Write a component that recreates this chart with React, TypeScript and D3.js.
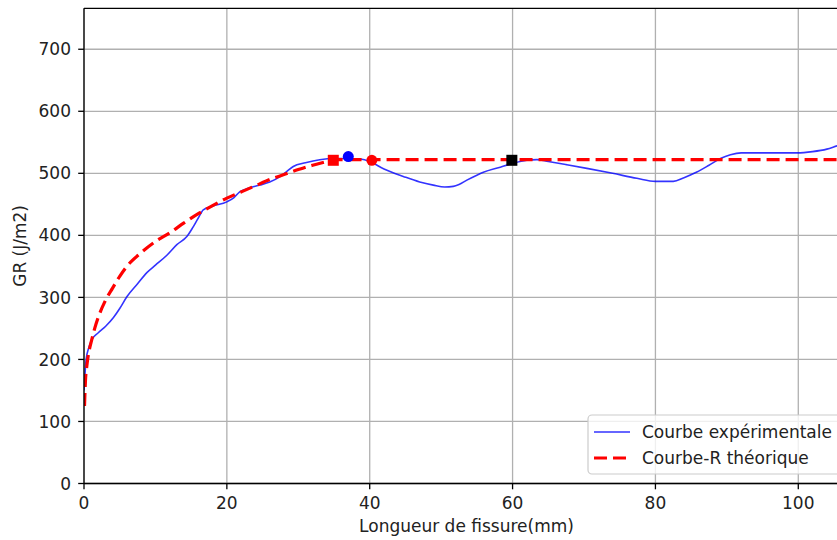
import React from "react";
import * as d3 from "d3";

// Experimental curve (crack length mm, GR J/m2)
const expX = [0, 0.3, 0.7, 1.1, 2, 3, 4.1, 5, 6, 7.5, 8.8, 10, 11.6, 13, 14.4, 15.2, 16, 16.7, 18, 20, 21, 21.8, 23, 24.6, 26, 27.5, 28.4, 29.3, 31, 33, 35, 37, 38.7, 40, 42, 44.7, 47, 48.9, 50.5, 51.7, 52.5, 53.6, 55, 56, 58, 60, 62, 63.4, 65, 67.5, 70.4, 74, 77.4, 80, 82.5, 84, 85.8, 87.5, 89.1, 90.5, 92, 95, 99.8, 102, 104, 105.6, 107];
const expY = [150, 200, 220, 232, 243, 253, 267, 282, 301, 322, 340, 352, 368, 385, 398, 412, 428, 441, 447, 454, 461, 470, 476, 481, 486, 495, 503, 511, 517, 522, 524, 524, 523, 519, 507, 495, 486, 481, 478, 479, 482, 489, 497, 502, 509, 516, 521, 522, 519, 514, 508, 500, 492, 487, 487, 493, 502, 513, 524, 530, 533, 533, 533, 535, 539, 545, 549];

// Theoretical R-curve
const theoX = [0.07, 0.2, 0.4, 0.7, 1, 1.5, 2, 3, 4, 5, 6, 8, 10, 12, 14, 16, 18, 20, 22, 24, 26, 28, 30, 32, 34, 35, 60, 107];
const theoY = [125, 165, 190, 213, 228, 250, 268, 295, 315, 334, 350, 372, 390, 404, 420, 435, 448, 460, 470, 480, 490, 498, 506, 513, 519, 522, 522, 522];

// Markers
const redSquare = { x: 34.9, y: 521 };
const blueCircle = { x: 37.0, y: 527 };
const redCircle = { x: 40.3, y: 521 };
const blackSquare = { x: 59.9, y: 521 };

const xTicks = [0, 20, 40, 60, 80, 100];
const yTicks = [0, 100, 200, 300, 400, 500, 600, 700];
const legendLabels = ["Courbe expérimentale", "Courbe-R théorique"];
const xLabel = "Longueur de fissure(mm)";
const yLabel = "GR (J/m2)";

export default function App() {
  const W = 837, H = 540;
  const left = 84, right = 849, top = 8.3, bottom = 483.5;
  const x = d3.scaleLinear().domain([0, 107.1]).range([left, right]);
  const y = d3.scaleLinear().domain([0, 766]).range([bottom, top]);
  const font = "DejaVu Sans, sans-serif";
  const fs = 17;
  const txt = "#222";

  const line = d3.line<[number, number]>().x(d => x(d[0])).y(d => y(d[1])).curve(d3.curveMonotoneX);
  const expPath = line(expX.map((v, i) => [v, expY[i]] as [number, number])) || "";
  const theoPath = line(theoX.map((v, i) => [v, theoY[i]] as [number, number])) || "";

  const sq = 11;
  return (
    <svg width={W} height={H} style={{ position: "absolute", left: 0, top: 0, background: "#fff" }}
      fontFamily={font}>
      <defs>
        <clipPath id="plot">
          <rect x={left} y={top} width={right - left} height={bottom - top} />
        </clipPath>
      </defs>
      {/* grid */}
      {xTicks.map(t => (
        <line key={"gx" + t} x1={x(t)} x2={x(t)} y1={top} y2={bottom} stroke="#b0b0b0" strokeWidth={1.3} />
      ))}
      {yTicks.map(t => (
        <line key={"gy" + t} x1={left} x2={right} y1={y(t)} y2={y(t)} stroke="#b0b0b0" strokeWidth={1.3} />
      ))}
      <g clipPath="url(#plot)">
        <path d={expPath} fill="none" stroke="#0000ff" strokeOpacity={0.8} strokeWidth={1.6} />
        <path d={theoPath} fill="none" stroke="#ff0000" strokeWidth={3.2} strokeDasharray="13,6" />
        <rect x={x(redSquare.x) - sq / 2} y={y(redSquare.y) - sq / 2} width={sq} height={sq} fill="#ff0000" />
        <circle cx={x(blueCircle.x)} cy={y(blueCircle.y)} r={5.5} fill="#0000ff" />
        <circle cx={x(redCircle.x)} cy={y(redCircle.y)} r={5.5} fill="#ff0000" />
        <rect x={x(blackSquare.x) - sq / 2} y={y(blackSquare.y) - sq / 2} width={sq} height={sq} fill="#000" />
      </g>
      {/* spines */}
      <line x1={left} x2={left} y1={top} y2={bottom} stroke="#000" strokeWidth={1.3} />
      <line x1={left} x2={right} y1={top} y2={top} stroke="#000" strokeWidth={1.3} />
      <line x1={left} x2={right} y1={bottom} y2={bottom} stroke="#000" strokeWidth={1.3} />
      {/* ticks */}
      {xTicks.map(t => (
        <g key={"tx" + t}>
          <line x1={x(t)} x2={x(t)} y1={bottom} y2={bottom + 5.8} stroke="#000" strokeWidth={1.3} />
          <text x={x(t)} y={bottom + 25} textAnchor="middle" fontSize={fs} fill={txt}>{t}</text>
        </g>
      ))}
      {yTicks.map(t => (
        <g key={"ty" + t}>
          <line x1={left - 5.8} x2={left} y1={y(t)} y2={y(t)} stroke="#000" strokeWidth={1.3} />
          <text x={left - 13} y={y(t)} dy="0.36em" textAnchor="end" fontSize={fs} fill={txt}>{t}</text>
        </g>
      ))}
      <text x={(left + right) / 2} y={532} textAnchor="middle" fontSize={fs} fill={txt}>{xLabel}</text>
      <text transform={`translate(26,${(top + bottom) / 2}) rotate(-90)`} textAnchor="middle" fontSize={fs} fill={txt}>{yLabel}</text>
      {/* legend */}
      <g>
        <rect x={588} y={415} width={270} height={59} rx={4} fill="#fff" fillOpacity={0.8} stroke="#cccccc" strokeWidth={1.2} />
        <line x1={594} x2={630} y1={432} y2={432} stroke="#0000ff" strokeOpacity={0.8} strokeWidth={1.6} />
        <text x={642} y={432} dy="0.36em" fontSize={fs} fill={txt}>{legendLabels[0]}</text>
        <line x1={594} x2={630} y1={458} y2={458} stroke="#ff0000" strokeWidth={3.2} strokeDasharray="13,6" />
        <text x={642} y={458} dy="0.36em" fontSize={fs} fill={txt}>{legendLabels[1]}</text>
      </g>
    </svg>
  );
}
